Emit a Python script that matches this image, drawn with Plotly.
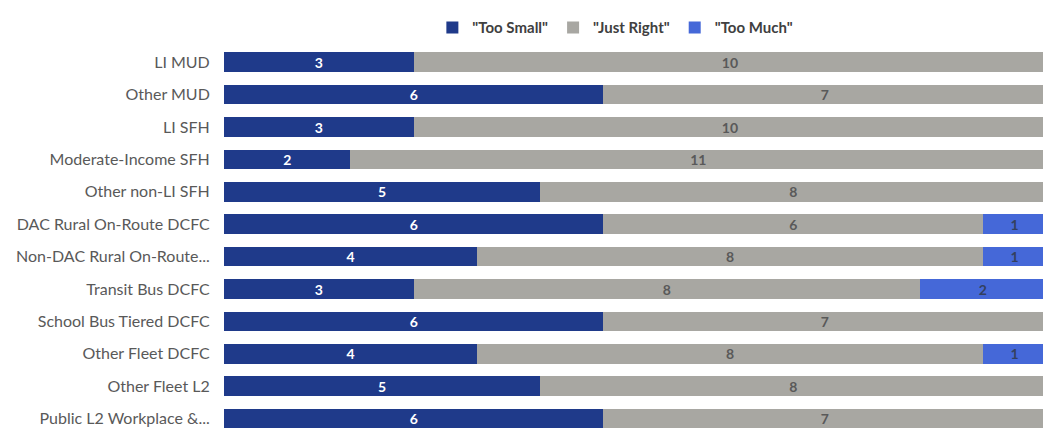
import plotly.graph_objects as go

categories = ["LI MUD", "Other MUD", "LI SFH", "Moderate-Income SFH", "Other non-LI SFH",
              "DAC Rural On-Route DCFC", "Non-DAC Rural On-Route...", "Transit Bus DCFC",
              "School Bus Tiered DCFC", "Other Fleet DCFC", "Other Fleet L2",
              "Public L2 Workplace &..."]
too_small = [3, 6, 3, 2, 5, 6, 4, 3, 6, 4, 5, 6]
just_right = [10, 7, 10, 11, 8, 6, 8, 8, 7, 8, 8, 7]
too_much = [None, None, None, None, None, 1, 1, 2, None, 1, None, None]

series = [
    ('"Too Small"', too_small, "#1F3A8A", "white"),
    ('"Just Right"', just_right, "#A8A7A2", "#595959"),
    ('"Too Much"', too_much, "#4568D8", "#33405F"),
]

fig = go.Figure()
for name, vals, color, tcolor in series:
    fig.add_trace(go.Bar(
        y=categories, x=vals, name=name, orientation="h",
        marker=dict(color=color, line=dict(width=0)),
        text=[("" if v is None else str(v)) for v in vals],
        textposition="inside", insidetextanchor="middle", textangle=0,
        constraintext="none",
        textfont=dict(family="Lato", size=14, color=tcolor, weight="bold"),
        hoverinfo="x+name",
    ))

fig.update_layout(
    barmode="stack",
    bargap=0.40,
    width=1043, height=428,
    margin=dict(l=224, r=0, t=46, b=0),
    paper_bgcolor="white", plot_bgcolor="white",
    font=dict(family="Lato", size=13, color="#595959"),
    legend=dict(orientation="h", xref="container", yref="container",
                x=0.59, y=0.935, xanchor="center", yanchor="middle",
                font=dict(family="Lato", size=15, color="#404040", weight="bold"),
                itemwidth=30, traceorder="normal"),
)
fig.update_xaxes(range=[0, 12.95], visible=False, showgrid=False, zeroline=False)
fig.update_yaxes(categoryorder="array", categoryarray=categories,
                 range=[11.29, -0.5], showgrid=False, zeroline=False,
                 ticks="outside", ticklen=10, tickcolor="white",
                 tickfont=dict(family="Lato", size=16, color="#595959"))

fig.write_html("out.html")
